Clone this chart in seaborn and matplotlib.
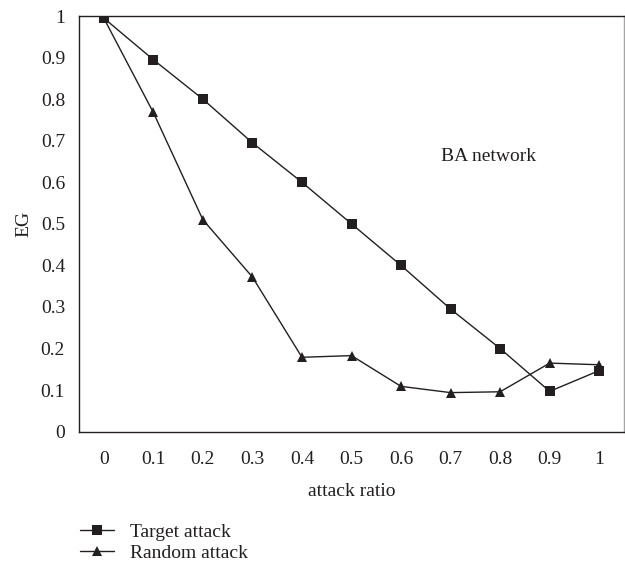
import numpy as np
import pandas as pd
import matplotlib
matplotlib.use("Agg")
import matplotlib.pyplot as plt
import seaborn as sns

# Attack ratio categories and efficiency (EG) under two attack strategies
ratios = ["0", "0.1", "0.2", "0.3", "0.4", "0.5", "0.6", "0.7", "0.8", "0.9", "1"]
target_attack = [0.995, 0.895, 0.80, 0.695, 0.60, 0.50, 0.40, 0.295, 0.20, 0.097, 0.147]
random_attack = [0.995, 0.768, 0.51, 0.372, 0.179, 0.183, 0.109, 0.094, 0.096, 0.165, 0.161]
y_ticks = [0, 0.1, 0.2, 0.3, 0.4, 0.5, 0.6, 0.7, 0.8, 0.9, 1]
y_tick_labels = ["0", "0.1", "0.2", "0.3", "0.4", "0.5", "0.6", "0.7", "0.8", "0.9", "1"]

sns.set_style("white")
plt.rcParams["font.family"] = ["Liberation Serif", "DejaVu Serif"]
plt.rcParams["font.size"] = 14

ink = "#231f20"

pos = np.arange(len(ratios))
df = pd.concat([
    pd.DataFrame({"pos": pos, "EG": target_attack, "series": "Target attack"}),
    pd.DataFrame({"pos": pos, "EG": random_attack, "series": "Random attack"}),
])

fig = plt.figure(figsize=(6.25, 5.72), dpi=100)
ax = fig.add_axes([0.1264, 0.2453, 0.8720, 0.7267])

sns.lineplot(
    data=df, x="pos", y="EG", hue="series", style="series",
    markers={"Target attack": "s", "Random attack": "^"},
    dashes=False,
    palette={"Target attack": ink, "Random attack": ink},
    markersize=7.8, markeredgewidth=0, linewidth=1.0,
    ax=ax, legend=True,
)

ax.set_xlim(-0.5, len(ratios) - 0.5)
ax.set_ylim(0, 1)

# category boundaries carry the tick marks, labels sit at the category centres
ax.set_xticks(np.arange(-0.5, len(ratios) - 0.5, 1.0))
ax.set_xticklabels([])
ax.set_xticks(pos, minor=True)
ax.set_xticklabels(ratios, minor=True)
ax.tick_params(axis="x", which="major", length=7, width=1.0, color=ink, direction="out")
ax.tick_params(axis="x", which="minor", length=0, pad=14, labelcolor=ink)

ax.set_yticks(y_ticks)
ax.set_yticklabels(y_tick_labels)
ax.tick_params(axis="y", length=0, pad=10, labelcolor=ink)

for side in ["left", "bottom", "top"]:
    ax.spines[side].set_color(ink)
    ax.spines[side].set_linewidth(1.0)
ax.spines["right"].set_color("#a5a5a5")
ax.spines["right"].set_linewidth(1.0)

ax.set_xlabel("attack ratio", color=ink, labelpad=11)
ax.set_ylabel("EG", color=ink, labelpad=6)

ax.text(0.752, 0.662, "BA network", transform=ax.transAxes,
        ha="center", va="center", color=ink)

handles, labels = ax.get_legend_handles_labels()
ax.legend(
    handles, labels, loc="upper left",
    bbox_to_anchor=(80 / 625, 1 - 523 / 572), bbox_transform=fig.transFigure,
    frameon=False, borderpad=0, borderaxespad=0,
    handlelength=1.75, handletextpad=0.8, labelspacing=0.2,
    labelcolor=ink,
)

fig.savefig("out.png", dpi=100)
